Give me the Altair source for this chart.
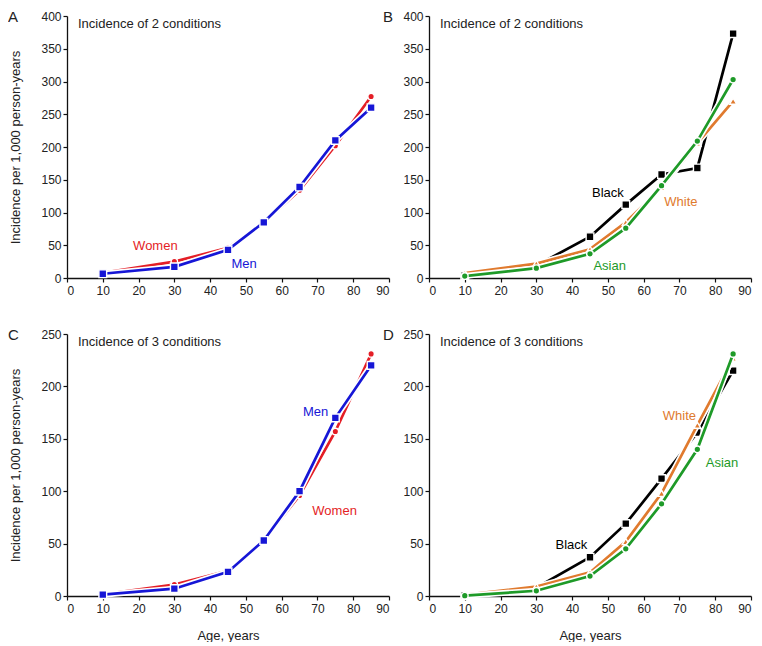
import altair as alt
import pandas as pd

FONT = "Liberation Sans"

AGES = [10, 30, 45, 55, 65, 75, 85]
X_TICKS = [0, 10, 20, 30, 40, 50, 60, 70, 80, 90]

# Panel A: incidence of 2 conditions by sex
A_WOMEN = [8, 25, 46, 85, 134, 202, 277]
A_MEN = [6.5, 17, 43, 85, 139, 210, 260]
# Panel B: incidence of 2 conditions by race
B_BLACK = [4, 19, 63, 112, 158, 168, 373]
B_WHITE = [7.5, 22, 44, 85, 138, 206, 270]
B_ASIAN = [3, 15, 37, 76, 141, 209, 303]
# Panel C: incidence of 3 conditions by sex
C_WOMEN = [1.5, 11, 24, 53, 96, 157, 231]
C_MEN = [1.3, 7, 23, 53, 100, 170, 220]
# Panel D: incidence of 3 conditions by race
D_BLACK = [0.5, 8, 37, 69, 112, 156, 215]
D_WHITE = [1, 9, 22.5, 52, 98, 163, 227]
D_ASIAN = [0.3, 5, 19, 45, 88, 140, 231]

# In-plot series labels: (text, age, value)
A_LABELS = [("Women", 24.7, 49), ("Men", 49.5, 21)]
B_LABELS = [("Black", 50, 130), ("White", 70.4, 116), ("Asian", 50.5, 18)]
C_LABELS = [("Men", 69.5, 176), ("Women", 74.8, 81)]
D_LABELS = [("White", 70, 171.5), ("Asian", 81.9, 127), ("Black", 39.8, 48.7)]

RED = "#e41e26"
BLUE = "#1616d6"
BLACK = "#000000"
ORANGE = "#e07a2e"
GREEN = "#1e9a28"

STYLE = {
    "Women": (RED, "circle", 42),
    "Men": (BLUE, "square", 60),
    "Black": (BLACK, "square", 60),
    "White": (ORANGE, "triangle-up", 52),
    "Asian": (GREEN, "circle", 44),
}

W, H = 322, 262


def make_panel(letter, letter_dx, title, ymax, ystep, series, labels, x_title, y_title):
    xaxis_kw = dict(values=X_TICKS, labelPadding=3, tickSize=4)
    if x_title:
        xaxis_kw.update(title="Age, years", titlePadding=15)
    else:
        xaxis_kw.update(title="")
    yaxis_kw = dict(values=list(range(0, ymax + 1, ystep)), labelPadding=2, tickSize=4)
    if y_title:
        yaxis_kw.update(title="Incidence per 1,000 person-years", titlePadding=18)
    else:
        yaxis_kw.update(title="")
    xenc = alt.X("age:Q", scale=alt.Scale(domain=[0, 90], nice=False), axis=alt.Axis(**xaxis_kw))
    yenc = alt.Y("v:Q", scale=alt.Scale(domain=[0, ymax], nice=False), axis=alt.Axis(**yaxis_kw))

    layers = []
    for name, vals in series:
        color, shape, size = STYLE[name]
        df = pd.DataFrame({"age": AGES, "v": vals})
        base = alt.Chart(df).encode(x=xenc, y=yenc)
        layers.append(base.mark_line(color="white", strokeWidth=6))
        layers.append(base.mark_line(color=color, strokeWidth=2.7))
        layers.append(
            base.mark_point(shape=shape, filled=True, fill=color, stroke="white",
                            strokeWidth=1.4, size=size, opacity=1)
        )

    ldf = pd.DataFrame({
        "txt": [l[0] for l in labels],
        "age": [l[1] for l in labels],
        "v": [l[2] for l in labels],
        "col": [STYLE[l[0]][0] for l in labels],
    })
    layers.append(
        alt.Chart(ldf).mark_text(font=FONT, fontSize=13, align="center", baseline="middle")
        .encode(x=xenc, y=yenc, text="txt:N", color=alt.Color("col:N", scale=None))
    )

    tdf = pd.DataFrame({"t": [title]})
    layers.append(
        alt.Chart(tdf).mark_text(font=FONT, fontSize=13, align="left", baseline="middle", color="#222")
        .encode(x=alt.value(11), y=alt.value(8), text="t:N")
    )
    ldf2 = pd.DataFrame({"t": [letter]})
    layers.append(
        alt.Chart(ldf2).mark_text(font=FONT, fontSize=15, align="left", baseline="middle", color="#222")
        .encode(x=alt.value(letter_dx), y=alt.value(1), text="t:N")
    )
    return alt.layer(*layers).properties(width=W, height=H)


pA = make_panel("A", -59, "Incidence of 2 conditions", 400, 50,
                [("Women", A_WOMEN), ("Men", A_MEN)], A_LABELS, False, True)
pB = make_panel("B", -46, "Incidence of 2 conditions", 400, 50,
                [("Black", B_BLACK), ("White", B_WHITE), ("Asian", B_ASIAN)], B_LABELS, False, False)
pC = make_panel("C", -59, "Incidence of 3 conditions", 250, 50,
                [("Women", C_WOMEN), ("Men", C_MEN)], C_LABELS, True, True)
pD = make_panel("D", -46, "Incidence of 3 conditions", 250, 50,
                [("Black", D_BLACK), ("White", D_WHITE), ("Asian", D_ASIAN)], D_LABELS, True, False)

chart = (
    alt.concat(pA, pB, pC, pD, columns=2, spacing={"row": 56, "column": 40}, bounds="flush")
    .properties(padding={"left": 0, "top": 2, "right": 2, "bottom": 0}, background="white")
    .configure_view(stroke=None)
    .configure_axis(
        grid=False,
        domainColor="#111",
        domainWidth=1.3,
        tickColor="#111",
        tickWidth=1.2,
        labelFont=FONT,
        labelFontSize=12,
        labelColor="#222",
        titleFont=FONT,
        titleFontSize=13,
        titleFontWeight="normal",
        titleColor="#222",
    )
)

chart.save("out.html", embed_options={"renderer": "svg", "actions": False})
